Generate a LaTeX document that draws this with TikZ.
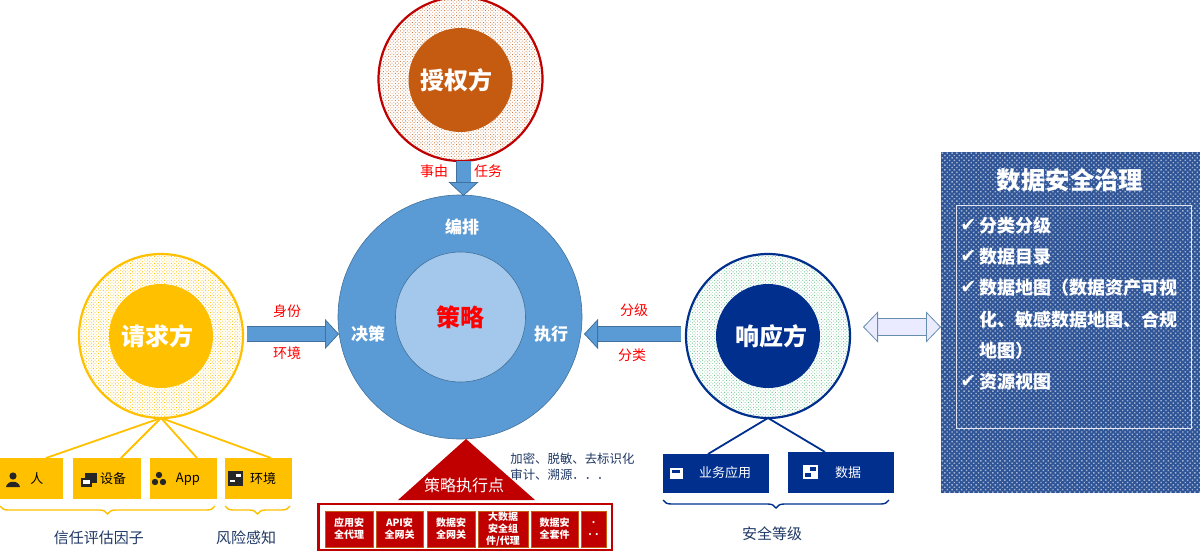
\documentclass[tikz,border=0pt]{standalone}
\usepackage{fontspec}
\setmainfont{Noto Sans CJK SC}
\newfontfamily\symfont{DejaVu Sans}
\usetikzlibrary{arrows.meta,patterns.meta,decorations.pathreplacing}
\definecolor{reqyellow}{HTML}{FFC000}
\definecolor{authorange}{HTML}{C55A11}
\definecolor{authred}{HTML}{C00000}
\definecolor{respblue}{HTML}{002F8E}
\definecolor{coreblue}{HTML}{5B9BD5}
\definecolor{innerblue}{HTML}{A3C8EB}
\definecolor{edgeblue}{HTML}{41719C}
\definecolor{panelblue}{HTML}{2F5597}
\definecolor{inknavy}{HTML}{1F3864}
\definecolor{respgreen}{HTML}{70C28F}
\tikzset{
  ring/.style={circle,draw,line width=1.1pt,minimum size=82pt,inner sep=0pt,outer sep=0pt},
  hub/.style={circle,minimum size=52pt,inner sep=0pt,outer sep=0pt,text=white,font=\bfseries\fontsize{12}{14}\selectfont},
  tag/.style={text=red,inner sep=0pt,font=\fontsize{7}{8}\selectfont},
  ink/.style={text=inknavy,inner sep=0pt,font=\fontsize{7.5}{9}\selectfont},
  corelabel/.style={text=white,inner sep=0pt,font=\bfseries\fontsize{8.5}{10}\selectfont},
  yellowbox/.style={fill=reqyellow,minimum height=20.5pt,inner sep=0pt,outer sep=0pt},
  bluebox/.style={fill=respblue,minimum height=20pt,inner sep=0pt,outer sep=0pt},
  redbox/.style={fill=authred,draw=authorange,line width=0.4pt,minimum height=18pt,inner sep=0pt,align=center,text=white,font=\bfseries\fontsize{5}{6}\selectfont},
  flowarrow/.style={double=coreblue,double distance=7pt,line width=0.4pt,draw=edgeblue,
    -{Triangle[length=7pt,width=15pt,fill=coreblue]}},
  tiebrace/.style={decorate,decoration={brace,mirror,amplitude=4pt},line width=0.7pt},
  listitem/.style={anchor=west,text=white,inner sep=0pt,font=\bfseries\fontsize{9}{11}\selectfont},
  dotfill/.style={pattern={Dots[distance=1.2pt,radius=0.3pt,angle=45]},pattern color=#1},
}
\begin{document}
\begin{tikzpicture}[x=0.5pt,y=-0.5pt]
  \useasboundingbox (0,0) rectangle (1200,557);

  \node[ring,draw=authred,dotfill=authorange!80] (authring) at (460.5,79) {};
  \node[hub,fill=authorange] (auth) at (460.5,80) {授权方\hspace*{4pt}};
  \node[ring,draw=reqyellow,dotfill=reqyellow] (reqring) at (161,336) {};
  \node[hub,fill=reqyellow] (req) at (161,336) {请求方\hspace*{4pt}};
  \node[ring,draw=respblue,dotfill=respgreen] (respring) at (768,336) {};
  \node[hub,fill=respblue] (resp) at (768,336) {\hspace*{3pt}响应方};

  \node[circle,fill=coreblue,draw=edgeblue,line width=0.3pt,minimum size=122pt,inner sep=0pt,outer sep=0pt] (core) at (460,317) {};
  \node[circle,fill=innerblue,draw=edgeblue,line width=0.3pt,minimum size=65pt,inner sep=0pt,outer sep=0pt,text=red,font=\bfseries\fontsize{12}{14}\selectfont] (policy) at (460.5,317) {策略};
  \node[corelabel] (orch) at (462,227) {编排};
  \node[corelabel] (decide) at (368,334) {决策};
  \node[corelabel] (exec) at (551,334) {执行};

  \coordinate (coretop) at (463.5,196);
  \coordinate (corewest) at (339,334);
  \coordinate (coreeast) at (584,334);
  \draw[flowarrow] (coretop|-authring.south) -- (coretop);
  \draw[flowarrow,shorten <=2pt] (reqring.east|-corewest) -- (corewest);
  \coordinate (respstart) at (681,334);
  \draw[flowarrow] (respstart) -- (coreeast);

  \node[tag] (reason) at (434,171) {事由};
  \node[tag] (task) at (488,171) {任务};
  \node[tag] (ident) at (287,311) {身份};
  \node[tag] (envtag) at (287,353) {环境};
  \node[tag] (grade) at (634,310) {分级};
  \node[tag] (classify) at (632,355) {分类};

  \foreach \n/\x/\w/\tx/\t in {man/31.5/63/37/人,dev/107/68/113/设备,app/183.5/67/188/App,env/258.5/67/263/环境} {
    \node[yellowbox,minimum width=\w*0.5pt] (\n) at (\x,478.5) {};
    \node[inner sep=0pt,font=\fontsize{6.5}{8}\selectfont] (\n text) at (\tx,479) {\t};
  }
  \draw[reqyellow,line width=0.9pt] (reqring.south) -- (46,458);
  \draw[reqyellow,line width=0.9pt] (reqring.south) -- (121,458);
  \draw[reqyellow,line width=0.9pt] (reqring.south) -- (197,458);
  \draw[reqyellow,line width=0.9pt] (reqring.south) -- (271,458);

  \fill[black!85] (13,476) circle (3.6);
  \fill[black!85] (6,487) .. controls (7,480) and (19,480) .. (20,487) -- cycle;
  \fill[black!85] (85,473) rectangle (97,483);
  \fill[black!85] (81,478) rectangle (92,487);
  \fill[white] (83,480) rectangle (90,484);
  \foreach \x/\y in {159/475,155/482,163/482} {
    \fill[black!85] (\x,\y) circle (3.2);
  }
  \fill[black!85] (228,471) rectangle (243,486);
  \fill[white] (236,474) rectangle (241,477);
  \fill[white] (230,480) rectangle (235,482);

  \draw[tiebrace,reqyellow] ([yshift=-3.5pt]man.south west) -- ([yshift=-3.5pt,xshift=-1pt]app.south east);
  \draw[tiebrace,reqyellow] ([yshift=-3.5pt]env.south west) -- ([yshift=-3.5pt,xshift=-1pt]env.south east);
  \node[ink] (trust) at (99,538) {信任评估因子};
  \node[ink] (risk) at (246,538) {风险感知};

  \foreach \n/\x/\w/\y/\h/\tx/\t in {biz/716/106/473.5/39/725/业务应用,data/841/106/472.5/41/848/数据} {
    \node[bluebox,minimum width=\w*0.5pt,minimum height=\h*0.5pt] (\n) at (\x,\y) {};
    \node[inner sep=0pt,text=white,font=\fontsize{6.5}{8}\selectfont] (\n text) at (\tx,473) {\t};
  }
  \draw[respblue,line width=0.9pt] (respring.south) -- (708,454);
  \draw[respblue,line width=0.9pt] (respring.south) -- (825,452);
  \fill[white] (670,468) rectangle (683,479);
  \fill[respblue] (672,470) rectangle (680,473);
  \fill[white] (803,465) rectangle (818,479);
  \fill[respblue] (810,467) rectangle (816,471);
  \fill[respblue] (805,473) rectangle (811,477);

  \draw[tiebrace,respblue] ([yshift=-3.5pt]biz.south west) -- ([yshift=-3.5pt,xshift=-2.5pt]data.south east);
  \node[ink] (grade level) at (772,534) {安全等级};

  \node[fill=authred,minimum width=148pt,minimum height=24pt,inner sep=0pt,outer sep=0pt] (pepframe) at (465,527) {};
  \node[fill=white,minimum width=145.5pt,minimum height=22pt,inner sep=0pt] (pepinner) at (465,527) {};
  \foreach \n/\x/\w/\t in {pa/349/48/应用安\\全代理,pb/399.5/47/API安\\全网关,pc/451/48/数据安\\全网关,pd/503/50/{大数据\\安全组\\件/代理},pe/554.5/47/数据安\\全套件,pf/593.5/25/.\\. .} {
    \node[redbox,minimum width=\w*0.5pt] (\n) at (\x,529) {\t};
  }
  \fill[authred] (466,439) -- (398,500) -- (535,500) -- cycle;
  \node[inner sep=0pt,text=white,font=\fontsize{8}{10}\selectfont] (pep) at (464,485) {策略执行点};
  \node[ink,anchor=west,align=left,font=\fontsize{6.2}{8.2}\selectfont] (pepnote) at (510,467) {加密、脱敏、去标识化\\审计、溯源．．．};

  \node[minimum width=129.5pt,minimum height=170.5pt,inner sep=0pt,outer sep=0pt,anchor=north west,
    preaction={fill=panelblue},pattern={Dots[distance=1.7pt,radius=0.5pt,angle=45]},pattern color=white!55!panelblue] (panel) at (941,152) {};
  \node[draw=white!85!panelblue,line width=0.4pt,minimum width=117.5pt,minimum height=111.5pt,inner sep=0pt,anchor=north west] (panelbox) at (956,205) {};
  \node[inner sep=0pt,text=white,font=\bfseries\fontsize{12.2}{14}\selectfont] (paneltitle) at (1070,180) {数据安全治理};
  \foreach \y/\t in {226/分类分级,257/数据目录,288/数据地图（数据资产可视,382/资源视图} {
    \node[listitem,font=\symfont\bfseries\fontsize{9.5}{10}\selectfont] (check\y) at (960,\y) {✔};
    \node[listitem] (item\y) at (979,\y) {\t};
  }
  \foreach \y/\t in {320/化、敏感数据地图、合规,351/地图）} {
    \node[listitem] (item\y) at (979,\y) {\t};
  }

  \coordinate (swapleft) at (863,327);
  \coordinate (swapright) at (941,327);
  \draw[double=blue!8,double distance=8pt,line width=0.4pt,draw=edgeblue!80,
    {Triangle[length=7.5pt,width=15.5pt,fill=blue!8]}-{Triangle[length=7.5pt,width=15.5pt,fill=blue!8]}] (swapleft) -- (swapright);
\end{tikzpicture}
\end{document}
